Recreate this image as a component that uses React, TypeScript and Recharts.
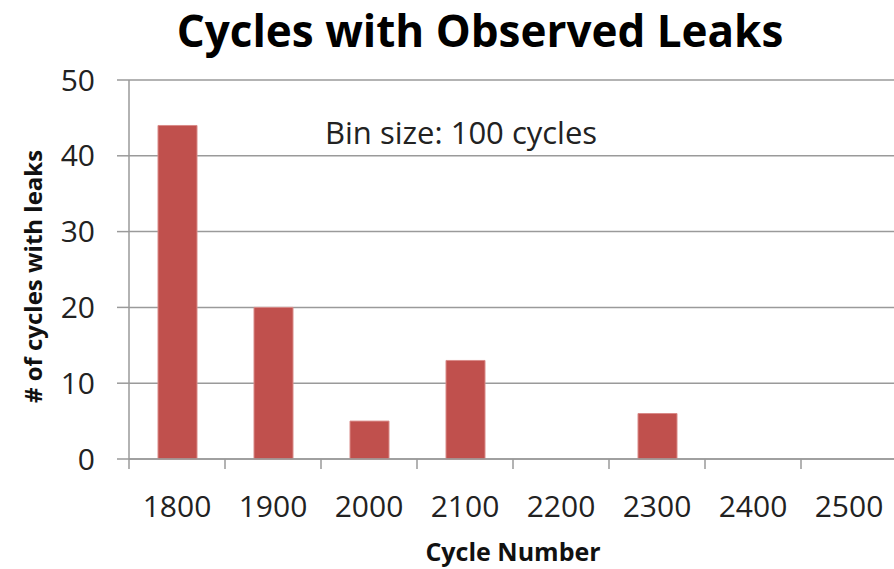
import { BarChart, Bar, XAxis, YAxis, CartesianGrid, Label } from 'recharts';

const categories = ['1800', '1900', '2000', '2100', '2200', '2300', '2400', '2500'];
const leakCounts = [44, 20, 5, 13, 0, 6, 0, 0];
const yTicks = [0, 10, 20, 30, 40, 50];

const data = categories.map((cycle, i) => ({ cycle, leaks: leakCounts[i] }));

const AXIS_COLOR = '#9a9a9a';
const FONT = '"Open Sans", sans-serif';

// tick line sits on the band edge (Excel style), label in the band centre
const CycleTick = (props: any) => {
  const { x, y, payload, index } = props;
  const half = payload && payload.offset ? payload.offset : 48;
  return (
    <g>
      <line x1={x - half} y1={y} x2={x - half} y2={y + 10} stroke={AXIS_COLOR} strokeWidth={1.5} />
      {index === categories.length - 1 && (
        <line x1={x + half} y1={y} x2={x + half} y2={y + 10} stroke={AXIS_COLOR} strokeWidth={1.5} />
      )}
      <text x={x} y={y + 58} textAnchor="middle" fill="#222" fontSize={30} fontFamily={FONT}>
        {payload.value}
      </text>
    </g>
  );
};

const YTitle = (props: any) => {
  const { viewBox } = props;
  const cy = viewBox.y + viewBox.height / 2 + 7;
  return (
    <text
      x={32}
      y={cy}
      transform={`rotate(-90, 32, ${cy})`}
      textAnchor="middle"
      dominantBaseline="central"
      fontSize={24}
      fontWeight="bold"
      fontFamily={FONT}
      fill="#111"
    >
      # of cycles with leaks
    </text>
  );
};

const XTitle = (props: any) => {
  const { viewBox } = props;
  return (
    <text
      x={viewBox.x + viewBox.width / 2}
      y={561}
      textAnchor="middle"
      fontSize={25}
      fontWeight="bold"
      fontFamily={FONT}
      fill="#111"
    >
      Cycle Number
    </text>
  );
};

export default function App() {
  return (
    <div
      style={{
        position: 'absolute',
        left: 0,
        top: 0,
        width: 894,
        height: 569,
        overflow: 'hidden',
        background: '#fff',
        fontFamily: FONT,
      }}
    >
      <BarChart
        width={910}
        height={569}
        data={data}
        margin={{ top: 80, right: 13, left: 0, bottom: 0 }}
        barCategoryGap={0}
      >
        <CartesianGrid vertical={false} stroke={AXIS_COLOR} strokeWidth={1.5} />
        <XAxis
          dataKey="cycle"
          height={110}
          tickLine={false}
          tickSize={0}
          tickMargin={0}
          axisLine={{ stroke: AXIS_COLOR, strokeWidth: 1.5 }}
          tick={<CycleTick />}
          interval={0}
        >
          <Label content={<XTitle />} />
        </XAxis>
        <YAxis
          width={129}
          domain={[0, 50]}
          ticks={yTicks}
          interval={0}
          tickSize={12}
          tickMargin={22}
          tickLine={{ stroke: AXIS_COLOR, strokeWidth: 1.5 }}
          axisLine={{ stroke: AXIS_COLOR, strokeWidth: 1.5 }}
          tick={{ fill: '#222', fontSize: 30, fontFamily: FONT }}
        >
          <Label content={<YTitle />} />
        </YAxis>
        <Bar dataKey="leaks" fill="#C0504D" stroke="#d98a88" strokeWidth={1} barSize={39} isAnimationActive={false} />
      </BarChart>
      <div
        style={{
          position: 'absolute',
          left: 0,
          width: 960,
          top: 2,
          textAlign: 'center',
          fontSize: 44,
          fontWeight: 'bold',
          color: '#000',
          lineHeight: '56px',
        }}
      >
        Cycles with Observed Leaks
      </div>
      <div
        style={{
          position: 'absolute',
          left: 325,
          top: 111,
          fontSize: 31,
          color: '#222',
          lineHeight: '42px',
          whiteSpace: 'nowrap',
        }}
      >
        Bin size: 100 cycles
      </div>
    </div>
  );
}
